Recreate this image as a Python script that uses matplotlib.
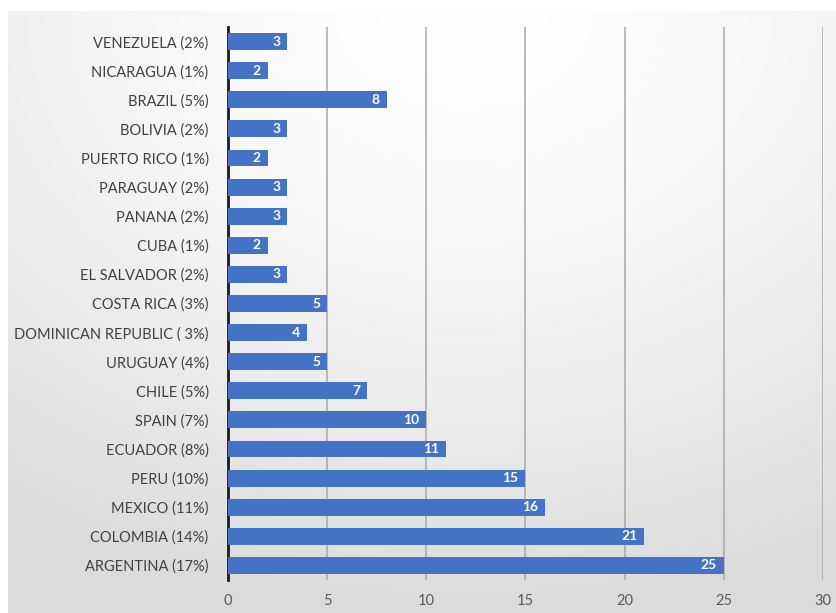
import numpy as np
import matplotlib
matplotlib.use("Agg")
import matplotlib.pyplot as plt

# data, bottom to top as drawn
countries = ["ARGENTINA (17%)", "COLOMBIA (14%)", "MEXICO (11%)", "PERU (10%)",
             "ECUADOR (8%)", "SPAIN (7%)", "CHILE (5%)", "URUGUAY (4%)",
             "DOMINICAN REPUBLIC ( 3%)", "COSTA RICA (3%)", "EL SALVADOR (2%)",
             "CUBA (1%)", "PANANA (2%)", "PARAGUAY (2%)", "PUERTO RICO (1%)",
             "BOLIVIA (2%)", "BRAZIL (5%)", "NICARAGUA (1%)", "VENEZUELA (2%)"]
counts = [25, 21, 16, 15, 11, 10, 7, 5, 4, 5, 3, 2, 3, 3, 2, 3, 8, 2, 3]
xticks = [0, 5, 10, 15, 20, 25, 30]

plt.rcParams['font.family'] = ['Lato', 'DejaVu Sans']

W, H = 837, 613
fig = plt.figure(figsize=(W / 100, H / 100), dpi=100)
fig.patch.set_facecolor("white")

# radial grey background like the office chart area
bg = fig.add_axes([8 / W, 0, 1 - 8 / W, 1 - 11 / H], zorder=0)
gx, gy = np.meshgrid(np.linspace(0, 1, 400), np.linspace(0, 1, 300))
r = np.sqrt(((gx - 0.55) / 1.0) ** 2 + ((gy - 0.0) / 1.05) ** 2)
shade = 1.0 - 0.14 * np.clip(r / 0.95, 0, 1) ** 1.6
bg.imshow(np.dstack([shade] * 3), aspect="auto", extent=[0, 1, 1, 0])
bg.axis("off")

ax = fig.add_axes([228 / W, 1 - 580 / H, (823 - 228) / W, (580 - 27) / H], zorder=1)
ax.patch.set_alpha(0)

y = np.arange(len(countries))
ax.barh(y, counts, height=0.58, color="#4472C4", zorder=3)
for yi, v in zip(y, counts):
    ax.text(v - 0.35, yi, str(v), ha="right", va="center", color="white",
            fontsize=10, fontweight="bold", zorder=4)

ax.set_xlim(0, 30)
ax.set_ylim(-0.5, len(countries) - 0.5)
ax.set_xticks(xticks)
ax.set_yticks(y)
ax.set_yticklabels(countries)
ax.xaxis.grid(True, color="#a8a8a8", linewidth=1.1, zorder=0)
ax.set_axisbelow(True)
for s in ["top", "right", "bottom"]:
    ax.spines[s].set_visible(False)
ax.spines["left"].set_color("#1a1a1a")
ax.spines["left"].set_linewidth(2)
ax.tick_params(axis="both", length=0)
ax.tick_params(axis="y", labelsize=10.5, labelcolor="#404040", pad=14)
ax.tick_params(axis="x", labelsize=10.5, labelcolor="#595959", pad=10)

fig.savefig("out.png", dpi=100)
